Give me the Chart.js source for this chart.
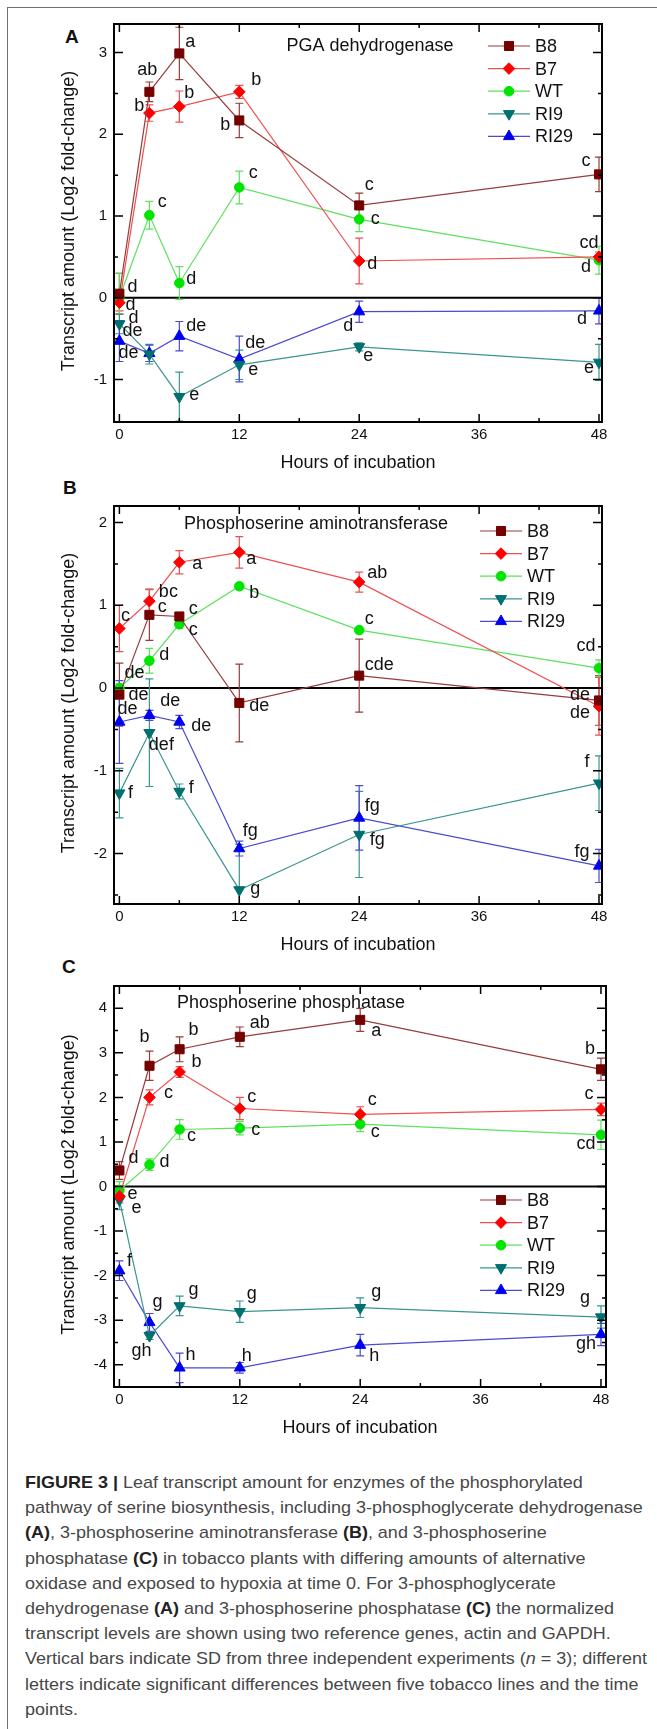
<!DOCTYPE html>
<html>
<head>
<meta charset="utf-8">
<script src="https://cdn.jsdelivr.net/npm/chart.js@4.4.1/dist/chart.umd.min.js"></script>
<style>
  html, body { margin: 0; padding: 0; background: #fff; }
  body { position: relative; width: 657px; height: 1729px; overflow: hidden; font-family: "Liberation Sans", Arial, sans-serif; }
  .rule-top { position: absolute; left: 8px; top: 7px; width: 649px; border-top: 1.5px solid #707070; }
  .rule-left { position: absolute; left: 7px; top: 7px; height: 1722px; border-left: 1.5px solid #707070; }
  canvas { position: absolute; left: 0; }
  .tag { position: absolute; font-weight: bold; font-size: 19px; line-height: 20px; color: #111; }
  .caption { position: absolute; left: 25px; top: 1470px; font-size: 17px; line-height: 25.2px; color: #474747; white-space: nowrap; transform-origin: 0 0; }
  .caption b { color: #222; }
</style>
</head>
<body>
<div class="rule-top"></div>
<div class="rule-left"></div>
<div class="tag" style="left:65px;top:27px">A</div>
<div class="tag" style="left:63px;top:478px">B</div>
<div class="tag" style="left:62px;top:957px">C</div>
<canvas id="chartA" width="657" height="480" style="top:0"></canvas>
<canvas id="chartB" width="657" height="480" style="top:480px"></canvas>
<canvas id="chartC" width="657" height="480" style="top:960px"></canvas>
<div class="caption" id="caption">
<div id="capWide"><b>FIGURE 3 |</b> Leaf transcript amount for enzymes of the phosphorylated</div>
<div>pathway of serine biosynthesis, including 3-phosphoglycerate dehydrogenase</div>
<div><b>(A)</b>, 3-phosphoserine aminotransferase <b>(B)</b>, and 3-phosphoserine</div>
<div>phosphatase <b>(C)</b> in tobacco plants with differing amounts of alternative</div>
<div>oxidase and exposed to hypoxia at time 0. For 3-phosphoglycerate</div>
<div>dehydrogenase <b>(A)</b> and 3-phosphoserine phosphatase <b>(C)</b> the normalized</div>
<div>transcript levels are shown using two reference genes, actin and GAPDH.</div>
<div>Vertical bars indicate SD from three independent experiments (<i>n</i> = 3); different</div>
<div>letters indicate significant differences between five tobacco lines and the time</div>
<div>points.</div>
</div>
<script>
const hours = [0, 3, 6, 12, 24, 48];
const lineNames = ['B8', 'B7', 'WT', 'RI9', 'RI29'];
const xTicks = [0, 12, 24, 36, 48];
const xMinor = [6, 18, 30, 42];

// A - PGA dehydrogenase
const pgdhB8 = [0.05, 2.52, 2.99, 2.17, 1.13, 1.51];
const pgdhB7 = [-0.06, 2.26, 2.34, 2.52, 0.45, 0.5];
const pgdhWT = [0.0, 1.01, 0.18, 1.35, 0.96, 0.46];
const pgdhRI9 = [-0.32, -0.69, -1.21, -0.82, -0.6, -0.79];
const pgdhRI29 = [-0.53, -0.68, -0.47, -0.75, -0.17, -0.16];
const pgdhB8Sd = [0.25, 0.12, 0.32, 0.21, 0.15, 0.21];
const pgdhB7Sd = [0.1, 0.1, 0.19, 0.08, 0.28, 0.06];
const pgdhWTSd = [0.3, 0.17, 0.2, 0.2, 0.15, 0.17];
const pgdhRI9Sd = [0.12, 0.12, 0.3, 0.18, 0.05, 0.22];
const pgdhRI29Sd = [0.25, 0.1, 0.18, 0.28, 0.13, 0.16];
const pgdhB8Let = ['d', 'ab', 'a', 'b', 'c', 'c'];
const pgdhB7Let = ['d', 'b', 'b', 'b', 'd', 'cd'];
const pgdhWTLet = ['d', 'c', 'd', 'c', 'c', 'd'];
const pgdhRI9Let = ['de', '', 'e', 'e', 'e', 'e'];
const pgdhRI29Let = ['de', '', 'de', 'de', 'd', 'd'];

// B - phosphoserine aminotransferase
const psatB8 = [-0.08, 0.885, 0.865, -0.18, 0.15, -0.15];
const psatB7 = [0.72, 1.05, 1.52, 1.64, 1.28, -0.22];
const psatWT = [0.0, 0.33, 0.77, 1.23, 0.7, 0.24];
const psatRI9 = [-1.27, -0.54, -1.25, -2.44, -1.77, -1.15];
const psatRI29 = [-0.41, -0.33, -0.41, -1.94, -1.57, -2.15];
const psatB8Sd = [0.38, 0.31, 0.03, 0.47, 0.44, 0.3];
const psatB7Sd = [0.28, 0.14, 0.14, 0.19, 0.12, 0.35];
const psatWTSd = [0.05, 0.15, 0.05, 0.03, 0.03, 0.1];
const psatRI9Sd = [0.3, 0.65, 0.09, 0.55, 0.52, 0.33];
const psatRI29Sd = [0.5, 0.06, 0.08, 0.09, 0.39, 0.2];
const psatB8Let = ['de', 'c', 'c', 'de', 'cde', 'de'];
const psatB7Let = ['c', 'bc', 'a', 'a', 'ab', 'de'];
const psatWTLet = ['de', 'd', 'c', 'b', 'c', 'cd'];
const psatRI9Let = ['f', 'def', 'f', 'g', 'fg', 'f'];
const psatRI29Let = ['de', 'de', 'de', 'fg', 'fg', 'fg'];

// C - phosphoserine phosphatase
const pspB8 = [0.36, 2.71, 3.08, 3.36, 3.74, 2.63];
const pspB7 = [-0.22, 2.0, 2.57, 1.75, 1.62, 1.73];
const pspWT = [-0.09, 0.49, 1.28, 1.31, 1.4, 1.16];
const pspRI9 = [-0.3, -3.35, -2.68, -2.81, -2.72, -2.93];
const pspRI29 = [-1.89, -3.05, -4.07, -4.07, -3.56, -3.32];
const pspB8Sd = [0.2, 0.33, 0.28, 0.22, 0.26, 0.25];
const pspB7Sd = [0.15, 0.17, 0.12, 0.25, 0.17, 0.14];
const pspWTSd = [0.2, 0.13, 0.22, 0.15, 0.17, 0.33];
const pspRI9Sd = [0.22, 0.08, 0.22, 0.24, 0.22, 0.25];
const pspRI29Sd = [0.22, 0.2, 0.33, 0.12, 0.24, 0.25];
const pspB8Let = ['d', 'b', 'b', 'ab', 'a', 'b'];
const pspB7Let = ['e', 'c', 'b', 'c', 'c', 'c'];
const pspWTLet = ['e', 'd', 'c', 'c', 'c', 'cd'];
const pspRI9Let = ['', 'gh', 'g', 'g', 'g', 'g'];
const pspRI29Let = ['f', 'g', 'h', 'h', 'h', 'gh'];

// where each letter sits relative to its point (px)
const offsA = [
  [[13, -7], [-2, -22], [11, -11], [-14, 5], [10, -20], [-13, -13]],
  [[11, 2], [-10, -7], [10, -14], [17, -12], [13, 3], [-10, -14]],
  [[14, 20], [13, -13], [12, -4], [14, -14], [16, 0], [-13, 7]],
  [[13, 7], [0, 0], [15, -2], [14, 5], [9, 9], [-10, 6]],
  [[9, 12], [0, 0], [17, -10], [16, -16], [-11, 14], [-17, 8]]
];
const offsB = [
  [[19, 0], [13, -8], [14, -7], [20, 3], [20, -11], [-19, -5]],
  [[6, -12], [19, -9], [18, 2], [12, 7], [18, -9], [-19, 7]],
  [[15, -15], [15, -6], [14, 6], [15, 7], [10, -11], [-13, -22]],
  [[11, 0], [12, 12], [12, -3], [16, -1], [18, 6], [-12, -21]],
  [[8, -13], [21, -14], [22, 4], [11, -18], [13, -12], [-17, -14]]
];
const offsC = [
  [[14, -12], [-5, -29], [14, -19], [20, -14], [16, 11], [-11, -20]],
  [[17, 12], [19, -4], [17, -10], [12, -11], [12, -14], [-12, -15]],
  [[13, 4], [15, -3], [12, 7], [16, 2], [15, 8], [-15, 9]],
  [[0, 0], [-8, 15], [14, -16], [12, -18], [16, -16], [-16, -19]],
  [[10, -10], [8, -20], [11, -13], [7, -12], [14, 11], [-15, 10]]
];

const lineColors = ['#963c3c', '#ee4f4f', '#5fe05f', '#3a958f', '#4b4bd0'];
const markColors = ['#740000', '#ff0000', '#00e400', '#006f6f', '#0000f0'];
const markShapes = ['rect', 'rectRot', 'circle', 'triangle', 'triangle'];
const markRotation = [0, 0, 0, 180, 0];
const markRadius = [6.4, 5.8, 4.8, 6.4, 6.4];
const family = '"Liberation Sans", Arial, sans-serif';

const decor = {
  id: 'decor',
  beforeDatasetsDraw(chart, args, o) {
    const { ctx, chartArea: a, scales: { x, y } } = chart;
    ctx.save();
    ctx.beginPath();
    ctx.rect(a.left, a.top, a.right - a.left, a.bottom - a.top);
    ctx.clip();
    const y0 = y.getPixelForValue(0);
    ctx.strokeStyle = '#000';
    ctx.lineWidth = 2;
    ctx.beginPath();
    ctx.moveTo(a.left, y0);
    ctx.lineTo(a.right, y0);
    ctx.stroke();
    // error bars
    chart.data.datasets.forEach((ds, i) => {
      ctx.strokeStyle = ds.borderColor;
      ctx.lineWidth = 1.2;
      ctx.beginPath();
      ds.data.forEach((pt, j) => {
        const sd = o.sds[i][j];
        const px = x.getPixelForValue(pt.x);
        const hi = y.getPixelForValue(pt.y + sd);
        const lo = y.getPixelForValue(pt.y - sd);
        ctx.moveTo(px, hi); ctx.lineTo(px, lo);
        ctx.moveTo(px - 4, hi); ctx.lineTo(px + 4, hi);
        ctx.moveTo(px - 4, lo); ctx.lineTo(px + 4, lo);
      });
      ctx.stroke();
    });
    ctx.restore();
  },
  afterDatasetsDraw(chart, args, o) {
    const { ctx, scales: { x, y } } = chart;
    ctx.save();
    ctx.font = '18px ' + family;
    ctx.fillStyle = '#111';
    ctx.textAlign = 'center';
    ctx.textBaseline = 'middle';
    chart.data.datasets.forEach((ds, i) => {
      ds.data.forEach((pt, j) => {
        const txt = o.letters[i][j];
        if (!txt) return;
        const off = o.offsets[i][j];
        ctx.fillText(txt, x.getPixelForValue(pt.x) + off[0], y.getPixelForValue(pt.y) + off[1]);
      });
    });
    ctx.restore();
  },
  afterDraw(chart, args, o) {
    const { ctx, chartArea: a, scales: { x, y } } = chart;
    ctx.save();
    // frame + inward ticks
    ctx.strokeStyle = '#000';
    ctx.lineWidth = 2;
    ctx.strokeRect(a.left, a.top, a.right - a.left, a.bottom - a.top);
    ctx.lineWidth = 1.5;
    ctx.beginPath();
    xTicks.concat(xMinor).forEach(v => {
      const len = xTicks.includes(v) ? 8 : 4;
      const px = x.getPixelForValue(v);
      ctx.moveTo(px, a.bottom); ctx.lineTo(px, a.bottom - len);
      ctx.moveTo(px, a.top); ctx.lineTo(px, a.top + len);
    });
    for (let v = Math.ceil(y.min * 2) / 2; v <= y.max; v += 0.5) {
      const py = y.getPixelForValue(v);
      if (py > a.bottom - 2 || py < a.top + 2) continue;
      const len = Number.isInteger(v) ? 9 : 4;
      ctx.moveTo(a.left, py); ctx.lineTo(a.left + len, py);
      ctx.moveTo(a.right, py); ctx.lineTo(a.right - len, py);
    }
    ctx.stroke();

    ctx.fillStyle = '#111';
    ctx.font = '18px ' + family;
    ctx.textAlign = 'center';
    ctx.textBaseline = 'middle';
    ctx.fillText(o.title, o.titleX, a.top + o.titleDy);
    ctx.fillText('Hours of incubation', (a.left + a.right) / 2, a.bottom + 41);
    ctx.save();
    ctx.translate(69, (a.top + a.bottom) / 2 - 2);
    ctx.rotate(-Math.PI / 2);
    ctx.fillText('Transcript amount (Log2 fold-change)', 0, 0);
    ctx.restore();

    // legend: line + marker + name
    chart.data.datasets.forEach((ds, i) => {
      const ly = a.top + o.legendTop + i * 22.6;
      ctx.strokeStyle = ds.borderColor;
      ctx.lineWidth = 1.2;
      ctx.beginPath();
      ctx.moveTo(o.legendX, ly);
      ctx.lineTo(o.legendX + 42, ly);
      ctx.stroke();
      ctx.fillStyle = ds.pointBackgroundColor;
      ctx.strokeStyle = ds.pointBorderColor;
      ctx.lineWidth = 1;
      Chart.helpers.drawPoint(ctx, {
        pointStyle: ds.pointStyle, rotation: ds.pointRotation,
        radius: ds.pointRadius, borderWidth: 1
      }, o.legendX + 21, ly);
      ctx.fillStyle = '#111';
      ctx.textAlign = 'left';
      ctx.fillText(ds.label, o.legendX + 47, ly + 1);
    });
    ctx.restore();
  }
};

function makeSets(means) {
  return means.map((m, i) => ({
    label: lineNames[i],
    data: hours.map((h, j) => ({ x: h, y: m[j] })),
    showLine: true,
    borderColor: lineColors[i],
    borderWidth: 1.2,
    backgroundColor: markColors[i],
    pointBackgroundColor: markColors[i],
    pointBorderColor: markColors[i],
    pointBorderWidth: 1,
    pointStyle: markShapes[i],
    pointRotation: markRotation[i],
    pointRadius: markRadius[i]
  }));
}

function drawPanel(p) {
  new Chart(document.getElementById(p.id), {
    type: 'scatter',
    data: { datasets: makeSets(p.means) },
    plugins: [decor],
    options: {
      responsive: false,
      animation: false,
      events: [],
      layout: { padding: { top: p.plotTop, right: 657 - p.plotRight, left: 0, bottom: 0 } },
      plugins: {
        legend: { display: false },
        tooltip: { enabled: false },
        decor: {
          sds: p.sds, letters: p.letters, offsets: p.offsets,
          title: p.title, titleX: p.titleX, titleDy: p.titleDy,
          legendX: p.legendX, legendTop: p.legendTop
        }
      },
      scales: {
        x: {
          type: 'linear', min: -0.54, max: p.xMax,
          grid: { display: false, drawTicks: false },
          border: { display: false },
          afterBuildTicks: ax => { ax.ticks = xTicks.map(v => ({ value: v })); },
          afterFit: ax => { ax.height = 480 - p.plotBottom; },
          ticks: { font: { size: 15, family }, color: '#111', padding: 4, maxRotation: 0, autoSkip: false }
        },
        y: {
          type: 'linear', min: p.yMin, max: p.yMax,
          grid: { display: false, drawTicks: false },
          border: { display: false },
          afterBuildTicks: ax => { ax.ticks = p.yTicks.map(v => ({ value: v })); },
          afterFit: ax => { ax.width = 114; },
          ticks: { font: { size: 15, family }, color: '#111', padding: 7, callback: v => String(v) }
        }
      }
    }
  });
}

drawPanel({
  id: 'chartA', plotTop: 24, plotBottom: 422, plotRight: 602, xMax: 48.3,
  yMin: -1.52, yMax: 3.35, yTicks: [-1, 0, 1, 2, 3],
  title: 'PGA dehydrogenase', titleX: 370, titleDy: 22, legendX: 488, legendTop: 22,
  means: [pgdhB8, pgdhB7, pgdhWT, pgdhRI9, pgdhRI29],
  sds: [pgdhB8Sd, pgdhB7Sd, pgdhWTSd, pgdhRI9Sd, pgdhRI29Sd],
  letters: [pgdhB8Let, pgdhB7Let, pgdhWTLet, pgdhRI9Let, pgdhRI29Let],
  offsets: offsA
});
drawPanel({
  id: 'chartB', plotTop: 26, plotBottom: 424, plotRight: 602, xMax: 48.3,
  yMin: -2.61, yMax: 2.2, yTicks: [-2, -1, 0, 1, 2],
  title: 'Phosphoserine aminotransferase', titleX: 316, titleDy: 18, legendX: 480, legendTop: 25,
  means: [psatB8, psatB7, psatWT, psatRI9, psatRI29],
  sds: [psatB8Sd, psatB7Sd, psatWTSd, psatRI9Sd, psatRI29Sd],
  letters: [psatB8Let, psatB7Let, psatWTLet, psatRI9Let, psatRI29Let],
  offsets: offsB
});
drawPanel({
  id: 'chartC', plotTop: 26, plotBottom: 427, plotRight: 606, xMax: 48.5,
  yMin: -4.5, yMax: 4.5, yTicks: [-4, -3, -2, -1, 0, 1, 2, 3, 4],
  title: 'Phosphoserine phosphatase', titleX: 291, titleDy: 17, legendX: 480, legendTop: 214,
  means: [pspB8, pspB7, pspWT, pspRI9, pspRI29],
  sds: [pspB8Sd, pspB7Sd, pspWTSd, pspRI9Sd, pspRI29Sd],
  letters: [pspB8Let, pspB7Let, pspWTLet, pspRI9Let, pspRI29Let],
  offsets: offsC
});

// squeeze caption so its longest line spans the same width as the original
const cap = document.getElementById('caption');
const lines = Array.from(cap.children);
const widest = Math.max(...lines.map(d => { const r = document.createRange(); r.selectNodeContents(d); return r.getBoundingClientRect().width; }));
cap.style.transform = 'scaleX(' + (622 / widest) + ')';
</script>
</body>
</html>
